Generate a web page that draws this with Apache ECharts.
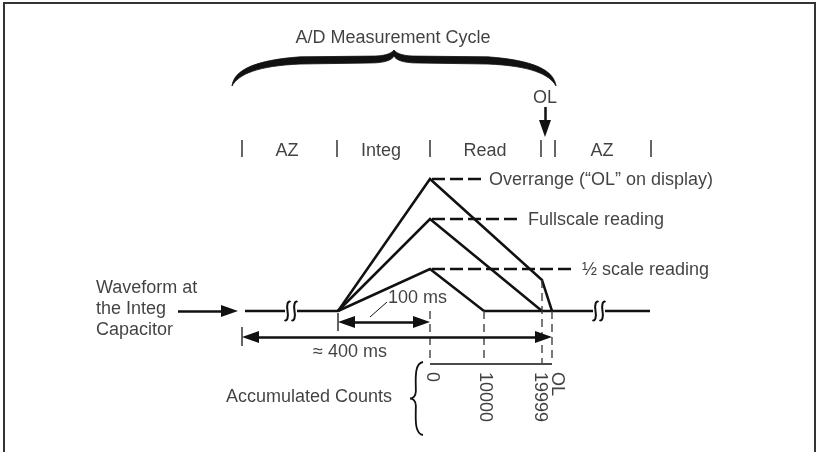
<!DOCTYPE html>
<html lang="en">
<head>
<meta charset="UTF-8">
<title>A/D Measurement Cycle</title>
<style>
  html, body { margin: 0; padding: 0; background: #fff; }
  #main { width: 820px; height: 452px; }
</style>
</head>
<body>
<div id="main"></div>
<script src="https://cdn.jsdelivr.net/npm/echarts@6/dist/echarts.min.js"></script>
<script>
// drawing units: x to the right, y downwards (inverse y axis)
var baseY = 311;

// integrator waveform, one list per reading
var overrange = [[338, 311], [430, 179], [542, 280], [552, 311]];
var fullscale = [[338, 311], [430, 219], [542, 311]];
var halfscale = [[338, 311], [430, 269], [484, 311]];
var baseline = [
    [[245, 311], [285, 311]],
    [[297, 311], [338, 311]],
    [[484, 311], [593, 311]],
    [[605, 311], [650, 311]]
];
var breakX = [291, 599];

// dashed level markers
var levelNames = ['Overrange (\u201cOL\u201d on display)', 'Fullscale reading', '\u00bd scale reading'];
var levelY = [179, 219, 269];
var levelEnd = [482, 521, 575];

// phases of the cycle
var phaseNames = ['AZ', 'Integ', 'Read', 'AZ'];
var phaseX = [287, 381, 485, 602];
var phaseTicks = [242, 337, 430, 541, 555, 651];

// accumulated counts
var countNames = ['0', '10000', '19999', 'OL'];
var countX = [432, 485, 540, 557];
var countLineX = [430, 484, 542, 552];
var countLineTop = [311, 311, 280, 311];

// timing arrows
var arrows = [
    {from: [178, 311], to: [238, 311], both: false},
    {from: [338, 322], to: [430, 322], both: true},
    {from: [242, 337], to: [552, 337], both: true},
    {from: [545, 107], to: [545, 137], both: false}
];

var ink = '#111';
var font = '"Liberation Sans", Arial, Helvetica, sans-serif';
var head = [12, 17];

var chart = echarts.init(document.getElementById('main'));

function poly(points, width, dash, color) {
    return {
        type: 'line',
        data: points,
        symbol: 'none',
        silent: true,
        z: 2,
        lineStyle: {color: color || ink, width: width, type: dash || 'solid', join: 'miter', cap: 'butt'}
    };
}

function inset(p, q, d) {
    var dx = q[0] - p[0], dy = q[1] - p[1];
    var len = Math.sqrt(dx * dx + dy * dy);
    return [p[0] + dx / len * d, p[1] + dy / len * d];
}

// path from normalized commands, mapped into data space then pixels
function buildPath(cmds, map, api) {
    var d = '';
    cmds.forEach(function (c) {
        d += c[0];
        for (var i = 1; i < c.length; i += 2) {
            var p = api.coord(map(c[i], c[i + 1]));
            d += p[0].toFixed(2) + ',' + p[1].toFixed(2) + ' ';
        }
    });
    return d;
}

// big brace over the cycle (tip up)
var topBrace = {x1: 232, x2: 556, yEnd: 86, yTip: 50};
var topBraceCmds = [
    ['M', 0, 1],
    ['C', 0.006, 0.56, 0.07, 0.28, 0.21, 0.19],
    ['L', 0.43, 0.17],
    ['C', 0.47, 0.17, 0.49, 0.11, 0.5, 0],
    ['C', 0.51, 0.11, 0.53, 0.17, 0.57, 0.17],
    ['L', 0.79, 0.19],
    ['C', 0.93, 0.28, 0.994, 0.56, 1, 1],
    ['C', 0.98, 0.67, 0.92, 0.44, 0.79, 0.39],
    ['L', 0.57, 0.36],
    ['C', 0.53, 0.36, 0.506, 0.28, 0.5, 0.17],
    ['C', 0.494, 0.28, 0.47, 0.36, 0.43, 0.36],
    ['L', 0.21, 0.39],
    ['C', 0.08, 0.44, 0.02, 0.67, 0, 1],
    ['Z']
];
// small brace before the counts (tip left)
var countBrace = {xTip: 410, xEnd: 423, y1: 362, y2: 435};
var countBraceCmds = [
    ['M', 1, 0],
    ['C', 0.3, 0.02, 0.45, 0.25, 0.45, 0.4],
    ['C', 0.45, 0.47, 0.2, 0.5, 0, 0.5],
    ['C', 0.2, 0.5, 0.45, 0.53, 0.45, 0.6],
    ['C', 0.45, 0.75, 0.3, 0.98, 1, 1]
];

function renderDecor(params, api) {
    var b = topBrace, c = countBrace;
    var children = [];
    children.push({
        type: 'path',
        shape: {pathData: buildPath(topBraceCmds, function (t, s) {
            return [b.x1 + t * (b.x2 - b.x1), b.yTip + s * (b.yEnd - b.yTip)];
        }, api)},
        style: {fill: ink, stroke: ink, lineWidth: 0.8}
    });
    children.push({
        type: 'path',
        shape: {pathData: buildPath(countBraceCmds, function (t, s) {
            return [c.xTip + t * (c.xEnd - c.xTip), c.y1 + s * (c.y2 - c.y1)];
        }, api)},
        style: {fill: null, stroke: ink, lineWidth: 1.8}
    });
    // the time breaks on the baseline
    breakX.forEach(function (bx) {
        [-3.5, 3.5].forEach(function (off) {
            var cx = bx + off;
            var cmds = [
                ['M', cx + 3, baseY - 9],
                ['C', cx, baseY - 11, cx - 1, baseY - 5, cx, baseY],
                ['C', cx + 1, baseY + 5, cx, baseY + 11, cx - 3, baseY + 9]
            ];
            children.push({
                type: 'path',
                shape: {pathData: buildPath(cmds, function (x, y) { return [x, y]; }, api)},
                style: {fill: null, stroke: ink, lineWidth: 2}
            });
        });
    });
    return {type: 'group', children: children};
}

var series = [];

// frame
series.push(poly([[4, 470], [4, 3], [815, 3], [815, 470]], 2, null, '#333'));

// waveform
series.push(poly(overrange, 2.5));
series.push(poly(fullscale, 2.5));
series.push(poly(halfscale, 2.5));
baseline.forEach(function (seg) { series.push(poly(seg, 2.5)); });

// level dashes
levelY.forEach(function (y, i) {
    series.push(poly([[432, y], [levelEnd[i], y]], 2.5, [13, 5]));
});

// count guides
countLineX.forEach(function (x, i) {
    series.push(poly([[x, countLineTop[i]], [x, 363]], 1.3, [8, 5], '#333'));
});
series.push(poly([[430, 364], [552, 364]], 1.5));

// phase separators
phaseTicks.forEach(function (x) {
    series.push(poly([[x, 140], [x, 157]], 1.5, null, '#333'));
});

// end ticks of the timing arrows and the 100 ms leader
series.push(poly([[242, 327], [242, 346]], 1.3));
series.push(poly([[338, 313], [338, 331]], 1.3));
series.push(poly([[370, 317], [387, 302]], 1));

// arrows
series.push({
    type: 'line',
    data: [],
    silent: true,
    markLine: {
        silent: true,
        animation: false,
        symbolSize: head,
        label: {show: false},
        emphasis: {disabled: true},
        lineStyle: {color: ink, width: 2.5, type: 'solid'},
        data: arrows.map(function (a) {
            var s = a.both ? inset(a.from, a.to, head[1] / 2) : a.from;
            var e = inset(a.to, a.from, head[1] / 2);
            return [
                {coord: s, symbol: a.both ? 'triangle' : 'none'},
                {coord: e, symbol: 'triangle'}
            ];
        })
    }
});

// braces and breaks
series.push({
    type: 'custom',
    coordinateSystem: 'cartesian2d',
    silent: true,
    data: [[0, 0]],
    renderItem: renderDecor,
    z: 3
});

// texts
var notes = [
    {at: [393, 38], text: 'A/D Measurement Cycle', align: 'center'},
    {at: [545, 98], text: 'OL', align: 'center'},
    {at: [96, 309], text: 'Waveform at\nthe Integ\nCapacitor', align: 'left'},
    {at: [388, 298], text: '100 ms', align: 'left'},
    {at: [350, 352], text: '\u2248 400 ms', align: 'center'},
    {at: [309, 397], text: 'Accumulated Counts', align: 'center'}
];
phaseNames.forEach(function (n, i) {
    notes.push({at: [phaseX[i], 151], text: n, align: 'center'});
});
levelNames.forEach(function (n, i) {
    notes.push({at: [levelEnd[i] + 7, levelY[i] + 1], text: n, align: 'left'});
});
countNames.forEach(function (n, i) {
    notes.push({at: [countX[i], 372], text: n, align: 'left', rotate: -90});
});

series.push({
    type: 'scatter',
    symbolSize: 1,
    silent: true,
    z: 5,
    itemStyle: {color: 'rgba(0,0,0,0)'},
    label: {
        show: true,
        position: 'inside',
        formatter: '{b}',
        color: ink,
        fontFamily: font,
        fontSize: 18,
        lineHeight: 21
    },
    data: notes.map(function (n) {
        return {
            name: n.text,
            value: n.at,
            label: {align: n.align, verticalAlign: 'middle', rotate: n.rotate || 0}
        };
    })
});

var option = {
    animation: false,
    backgroundColor: '#fff',
    grid: {left: 0, right: 0, top: 0, bottom: 0},
    xAxis: {type: 'value', min: 0, max: 820, show: false},
    yAxis: {type: 'value', min: 0, max: 452, inverse: true, show: false},
    series: series
};
chart.setOption(option);
</script>
</body>
</html>
